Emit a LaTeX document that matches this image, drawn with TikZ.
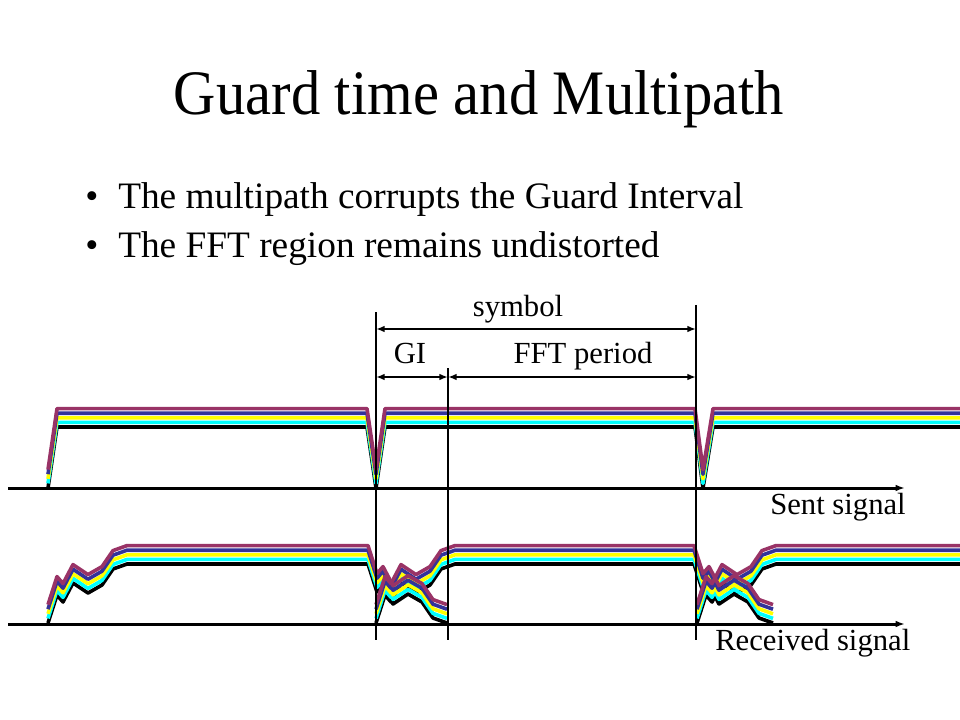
\documentclass[tikz,border=0pt]{standalone}
\usepackage{fontspec}
\setmainfont{Liberation Serif}
\newfontfamily\headingfont[FakeStretch=0.925]{Liberation Serif}
\usetikzlibrary{arrows.meta}
\definecolor{PathPurple}{HTML}{993366}
\definecolor{PathBlue}{HTML}{333399}
\definecolor{PathYellow}{HTML}{FFFF00}
\definecolor{PathCyan}{HTML}{00FFFF}

\begin{document}
\begin{tikzpicture}[x=0.75pt, y=-0.75pt,
  every node/.style={inner sep=0pt},
  heading/.style={font=\headingfont\fontsize{47.5}{54}\selectfont},
  bullettext/.style={font=\fontsize{28}{34}\selectfont},
  label/.style={font=\fontsize{23}{28}\selectfont},
  axis/.style={line width=2.25pt, -{Latex[length=7pt,width=5pt]}},
  span/.style={line width=1.5pt, {Latex[length=6.5pt,width=5pt]}-{Latex[length=6.5pt,width=5pt]}},
  marker/.style={line width=0.9pt},
  wave/.style={line width=2.7pt, line join=round}]
  \useasboundingbox (0,0) rectangle (960,720);

  % title and bullets
  \node[heading, anchor=base] (title) at (479,115) {Guard time and Multipath};
  \node[bullettext, anchor=base] (dotA) at (92,209) {\textbullet};
  \node[bullettext, anchor=base west] (lineA) at (118,209) {The multipath corrupts the Guard Interval};
  \node[bullettext, anchor=base] (dotB) at (92,258) {\textbullet};
  \node[bullettext, anchor=base west] (lineB) at (118,258) {The FFT region remains undistorted};

  % sent and received waveforms, one copy per path
  \foreach \c [count=\i from 0] in {black,PathCyan,PathYellow,PathBlue,PathPurple}{%
    \begin{scope}[shift={(0,{-4.6*\i})}]
      \draw[wave,\c] (48,488) -- (57,427) -- (367,427) -- (376,488) -- (385,427)
        -- (695,427) -- (703,488) -- (713,427) -- (960,427);
      \draw[wave,\c] (48,623) -- (57,595) -- (63,602) -- (73,583) -- (88,593)
        -- (102,585) -- (113,569) -- (127,564) -- (368,564) -- (377,592)
        -- (383,585) -- (393,604) -- (408,594) -- (422,602) -- (433,618) -- (447,623);
      \draw[wave,\c] (376,623) -- (385,595) -- (391,602) -- (401,583) -- (416,593)
        -- (430,585) -- (441,569) -- (455,564) -- (694,564) -- (703,592)
        -- (709,585) -- (719,604) -- (734,594) -- (748,602) -- (759,618) -- (773,623);
      \draw[wave,\c] (697,623) -- (706,595) -- (712,602) -- (722,583) -- (737,593)
        -- (751,585) -- (762,569) -- (776,564) -- (960,564);
    \end{scope}
  }

  % time axes
  \coordinate (SentStart) at (8,488);
  \coordinate (SentEnd)   at (905,488);
  \coordinate (RecvStart) at (8,624);
  \coordinate (RecvEnd)   at (905,624);
  \draw[axis] (SentStart) -- (SentEnd);
  \draw[axis] (RecvStart) -- (RecvEnd);
  \node[label, anchor=base west] (sent) at (770,514) {Sent signal};
  \node[label, anchor=base west] (recv) at (715,650) {Received signal};

  % symbol boundaries
  \coordinate (GItop)  at (376,312);
  \coordinate (GIbot)  at (376,640);
  \coordinate (FFTtop) at (448,368);
  \coordinate (FFTbot) at (448,640);
  \coordinate (Endtop) at (696,305);
  \coordinate (Endbot) at (696,640);
  \draw[marker] (GItop) -- (GIbot);
  \draw[marker] (FFTtop) -- (FFTbot);
  \draw[marker] (Endtop) -- (Endbot);

  \coordinate (SymL) at (376,329);
  \coordinate (SymR) at (696,329);
  \coordinate (GIL)  at (376,377);
  \coordinate (GIR)  at (448,377);
  \coordinate (FFTR) at (696,377);
  \draw[span] (SymL) -- (SymR);
  \draw[span] (GIL) -- (GIR);
  \draw[span] (GIR) -- (FFTR);

  \node[label, anchor=base] (symbol) at (518,316) {symbol};
  \node[label, anchor=base] (gi)     at (410,363) {GI};
  \node[label, anchor=base] (fft)    at (583,363) {FFT period};
\end{tikzpicture}
\end{document}
